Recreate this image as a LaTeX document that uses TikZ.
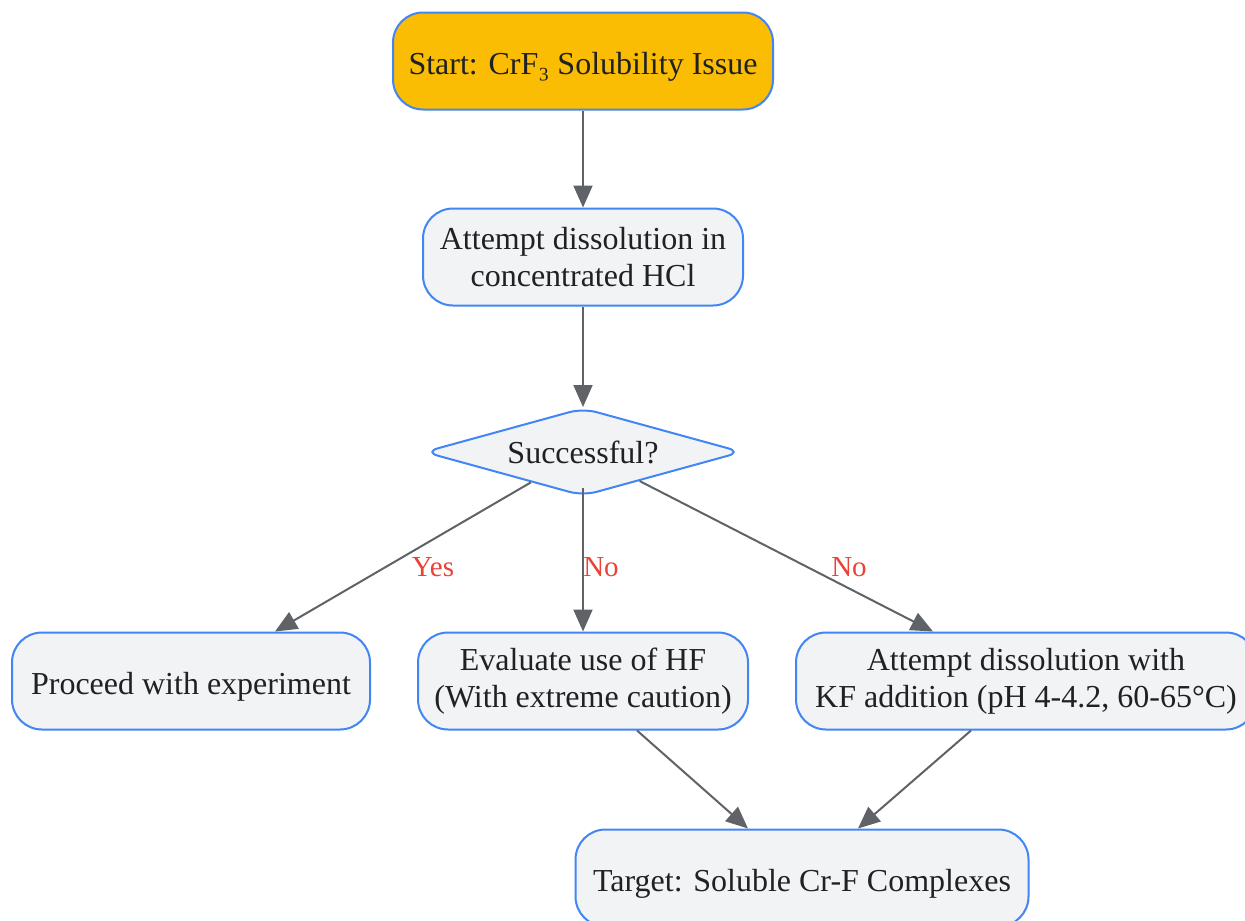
\documentclass[tikz,border=0pt]{standalone}
\usepackage{fontspec}
\setmainfont{Liberation Serif}
\usepackage{tikz}
\usetikzlibrary{shapes.geometric,arrows.meta}

\definecolor{edgeblue}{HTML}{4285F4}
\definecolor{boxgray}{HTML}{F1F3F4}
\definecolor{startyellow}{HTML}{FBBC04}
\definecolor{linegray}{HTML}{5F6368}
\definecolor{inkgray}{HTML}{202124}
\definecolor{labelred}{HTML}{EA4335}

\begin{document}
\begin{tikzpicture}
  [x=1pt,y=-1pt,
   every node/.style={font=\fontsize{32}{37}\selectfont,text=inkgray},
   box/.style={draw=edgeblue,line width=2pt,fill=boxgray,rounded corners=30pt,
     minimum height=97pt,align=center,inner sep=0pt},
   oneline/.style={text height=30pt,text depth=4pt},
   decision/.style={draw=edgeblue,line width=2pt,fill=boxgray,diamond,
     rounded corners=14pt,minimum width=318pt,minimum height=88pt,inner sep=0pt,aspect=3.5},
   arr/.style={draw=linegray,line width=2pt,-{Triangle[length=22pt,width=19pt]}},
   lbl/.style={text=labelred,font=\fontsize{29}{32}\selectfont}]
  \useasboundingbox (0,0) rectangle (1245,921);

  \node[box,oneline,fill=startyellow,minimum width=380pt] (start) at (583,61) {Start: CrF₃ Solubility Issue};
  \node[box,minimum width=320pt] (hcl) at (583,257) {Attempt dissolution in\\concentrated HCl};
  \node[decision] (dia) at (583,452) {Successful?};
  \node[box,oneline,minimum width=358pt] (proceed) at (191,681) {Proceed with experiment};
  \node[box,minimum width=330pt] (hf) at (583,681) {Evaluate use of HF\\(With extreme caution)};
  \node[box,minimum width=460pt] (kf) at (1026,681) {Attempt dissolution with\\KF addition (pH 4-4.2, 60-65°C)};
  \node[box,oneline,minimum width=453pt] (target) at (802,878) {Target: Soluble Cr-F Complexes};

  \draw[arr] (start) -- (hcl);
  \draw[arr] (hcl) -- (dia);
  \draw[arr] (dia) -- ([xshift=84pt]proceed.north);
  \draw[arr] ([yshift=9pt]dia.south) -- (hf);
  \draw[arr] (dia) -- ([xshift=-93pt]kf.north);
  \draw[arr] ([xshift=54pt]hf.south) -- ([xshift=-54pt]target.north);
  \draw[arr] ([xshift=-55pt]kf.south) -- ([xshift=56pt]target.north);

  \node[lbl] (yes) at (433,567) {Yes};
  \node[lbl] (no1) at (601,567) {No};
  \node[lbl] (no2) at (849,567) {No};
\end{tikzpicture}
\end{document}
